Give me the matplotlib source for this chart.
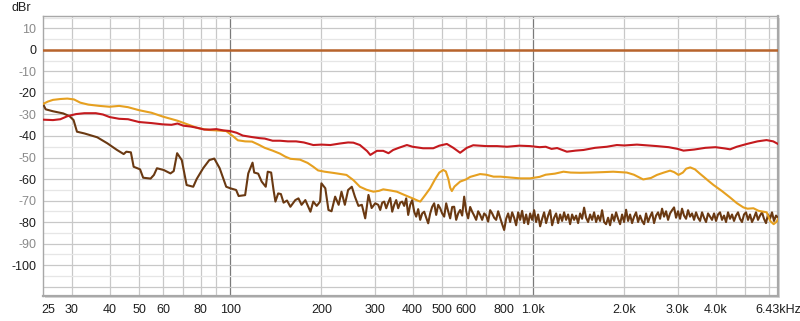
import numpy as np
import matplotlib
matplotlib.use('Agg')
import matplotlib.pyplot as plt
from matplotlib.patches import Rectangle
from matplotlib.ticker import FixedLocator, NullFormatter

plt.rcParams['font.family'] = ['Liberation Sans', 'DejaVu Sans']

# red trace
red_f = [24.1, 26, 27.5, 29, 31, 33, 36, 38, 40, 43, 46, 50, 55, 60, 64, 67, 70, 74, 78, 82,
         86, 90, 95, 100, 105, 110, 118, 125, 130, 138, 146, 155, 165, 175, 188, 200, 214, 230,
         245, 255, 268, 283, 290, 305, 320, 333, 345, 360, 383, 400, 433, 468, 490, 519, 545,
         574, 604, 634, 700, 760, 820, 900, 977, 1050, 1100, 1150, 1200, 1292, 1380, 1466,
         1600, 1750, 1889, 2000, 2200, 2400, 2562, 2800, 3000, 3135, 3400, 3700, 4000, 4300,
         4468, 4700, 5074, 5500, 5891, 6200, 6430]
red_db = [-32.4, -32.6, -32.2, -30.8, -29.8, -29.4, -29.4, -30.0, -31.2, -32.0, -32.2, -33.5,
          -34.0, -34.6, -34.8, -34.2, -35.2, -35.6, -36.2, -37.0, -37.0, -36.8, -37.4, -37.7,
          -38.5, -39.8, -40.5, -41.0, -41.2, -42.2, -42.2, -42.5, -42.5, -43.0, -44.2, -44.0,
          -44.2, -43.5, -43.0, -43.1, -44.2, -47.0, -48.8, -46.9, -46.9, -48.0, -46.5, -45.5,
          -44.2, -45.0, -45.7, -45.7, -44.5, -43.7, -45.5, -47.8, -45.5, -44.3, -44.7, -44.7,
          -45.0, -44.5, -44.7, -45.2, -45.0, -46.0, -45.6, -47.3, -46.8, -46.5, -45.5, -45.0,
          -44.2, -44.4, -44.0, -44.4, -44.7, -45.2, -46.0, -46.8, -46.3, -45.5, -45.2, -45.8,
          -46.2, -45.0, -43.7, -42.5, -41.9, -42.5, -43.7]

# yellow trace
yel_f = [24.1, 25, 26, 27.5, 29, 30.5, 32, 34, 37, 40, 43, 46, 50, 55, 60, 67, 72, 78, 85, 90,
         97, 102, 106, 112, 118, 124, 130, 138, 146, 152, 158, 170, 180, 188, 195, 205, 220,
         242, 255, 268, 282, 297, 310, 320, 340, 355, 370, 383, 400, 415, 424, 440, 457, 475,
         490, 505, 515, 525, 532, 539, 550, 574, 600, 620, 668, 700, 740, 780, 840, 906, 977,
         1050, 1100, 1180, 1259, 1330, 1430, 1550, 1700, 1838, 2038, 2150, 2308, 2450, 2562,
         2700, 2831, 2920, 3018, 3120, 3200, 3300, 3420, 3550, 3650, 3800, 3940, 4200, 4468,
         4700, 4942, 5100, 5335, 5550, 5755, 5900, 6060, 6220, 6370, 6430]
yel_db = [-25.1, -24.0, -23.2, -22.8, -22.6, -23.0, -24.5, -25.4, -26.0, -26.4, -26.0, -26.6,
          -28.0, -29.2, -31.0, -32.9, -34.5, -36.3, -37.2, -37.4, -37.7, -40.0, -42.0, -42.5,
          -42.6, -44.0, -45.5, -46.8, -48.2, -49.6, -50.6, -51.0, -52.5, -54.3, -56.0, -56.6,
          -57.2, -58.1, -60.5, -63.6, -65.0, -65.9, -65.5, -64.8, -65.4, -65.9, -67.0, -67.9,
          -69.0, -70.0, -70.5, -67.5, -64.3, -60.0, -57.0, -55.8, -56.5, -60.0, -64.0, -65.6,
          -63.5, -61.2, -60.2, -59.0, -57.7, -58.0, -58.9, -58.9, -59.3, -59.7, -59.7, -59.0,
          -58.0, -57.5, -56.6, -57.0, -57.1, -57.0, -56.8, -56.6, -57.0, -58.0, -60.2, -59.5,
          -58.1, -57.0, -56.1, -56.8, -58.1, -57.0, -55.2, -54.6, -55.5, -57.5, -58.9, -61.0,
          -62.8, -65.6, -68.6, -71.2, -73.2, -73.8, -73.6, -74.8, -75.2, -75.5, -79.5, -81.0,
          -79.8, -78.6]

# brown trace, low part
brn_f = [24.1, 24.6, 26, 28.1, 29.5, 30.4, 31.2, 33, 36.4, 39.3, 42.3, 44.5, 45.4, 47, 48,
         50.4, 51.6, 54.6, 56, 57.3, 60.3, 63.5, 65.1, 66.8, 69.2, 71.8, 75.5, 77.5, 81.4, 85.3,
         88.6, 92.3, 97, 100, 104.6, 106.6, 112, 114.7, 118.5, 120, 123.7, 127, 131, 133, 136.5,
         139, 141, 144, 147, 150, 154, 158, 164, 168, 172, 177, 184, 188, 193, 198, 200, 206,
         211, 216, 222, 228, 233, 239, 245, 252, 258, 265, 272, 279, 286, 293, 301]
brn_db = [-25.1, -27.6, -28.5, -29.5, -30.8, -32.6, -38.0, -38.8, -40.6, -43.4, -46.5, -48.4,
          -47.3, -47.6, -54.3, -55.5, -59.4, -59.8, -58.1, -55.0, -55.8, -57.4, -56.3, -48.0,
          -51.2, -62.8, -63.6, -60.0, -55.0, -51.2, -50.5, -55.0, -63.6, -64.3, -65.1, -67.9,
          -67.5, -57.4, -52.4, -57.0, -57.5, -61.2, -63.6, -56.6, -57.0, -65.1, -70.5, -66.7,
          -67.0, -71.0, -70.0, -72.9, -69.8, -69.0, -72.0, -69.8, -75.2, -70.5, -72.5, -70.5,
          -62.0, -64.3, -74.4, -75.0, -68.2, -72.0, -65.9, -72.0, -65.1, -63.6, -68.2, -72.5,
          -72.0, -78.3, -67.4, -73.5, -71.3]

# brown trace, noisy part (308 Hz .. 6.43 kHz)
brn_hi_db = [
    -72.0, -74.4, -71.0, -70.5, -73.6, -71.0, -68.8, -75.2, -72.0, -69.8,
    -73.6, -71.0, -70.5, -72.5, -69.0, -76.7, -72.0, -69.8, -75.2, -77.5,
    -74.0, -79.0, -76.0, -75.2, -78.0, -80.6, -76.0, -72.9, -71.3, -76.7,
    -72.0, -73.6, -76.0, -77.5, -71.3, -75.0, -78.3, -73.0, -72.9, -79.0,
    -76.0, -74.4, -77.0, -68.2, -75.0, -78.3, -73.0, -75.2, -77.0, -79.0,
    -75.0, -76.7, -79.0, -76.0, -77.0, -79.8, -74.5, -76.0, -78.0, -79.0,
    -75.0, -78.0, -81.0, -83.7, -78.5, -76.0, -80.0, -75.5, -78.0, -81.5,
    -75.5, -79.0, -74.8, -80.5, -76.5, -81.0, -76.0, -79.0, -74.5, -80.0,
    -76.5, -82.0, -78.5, -75.5, -80.5, -77.0, -74.5, -81.5, -78.0, -76.0,
    -80.5, -76.5, -79.5, -75.5, -79.0, -76.5, -81.0, -76.5, -79.0, -77.0,
    -80.5, -76.0, -78.5, -73.3, -78.0, -80.0, -76.5, -79.0, -75.5, -80.0,
    -77.0, -79.5, -74.5, -80.0, -81.0, -78.0, -81.5, -76.5, -79.5, -75.5,
    -78.5, -81.0, -76.5, -80.0, -74.3, -79.5, -76.5, -80.5, -77.5, -75.5,
    -80.0, -77.0, -79.5, -81.0, -76.0, -80.0, -77.5, -75.5, -80.5, -77.0,
    -75.5, -78.5, -73.8, -77.5, -75.0, -79.0, -76.0, -74.5, -73.2, -78.0,
    -75.0, -78.5, -73.8, -77.0, -78.5, -74.5, -77.5, -76.0, -79.0, -75.5,
    -78.0, -79.5, -75.5, -78.0, -80.0, -76.0, -77.5, -79.0, -76.0, -79.5,
    -76.5, -75.5, -79.0, -77.0, -80.0, -75.5, -78.5, -76.5, -79.5, -77.0,
    -75.5, -78.5, -80.0, -76.5, -75.5, -79.0, -76.5, -80.0, -78.0, -75.5,
    -79.0, -77.0, -75.5, -78.5, -80.5, -76.5, -78.5, -75.5, -79.5, -77.0,
    -78.0]
brn_hi_f = np.geomspace(308, 6430, len(brn_hi_db))

ref_db = [0, 0]
ref_f = [24.1, 6430]

xticks = [25, 30, 40, 50, 60, 80, 100, 200, 300, 400, 500, 600, 800, 1000, 2000, 3000, 4000, 6430]
xlabels = ['25', '30', '40', '50', '60', '80', '100', '200', '300', '400', '500', '600', '800',
           '1.0k', '2.0k', '3.0k', '4.0k', '6.43kHz']
xgrid = [30, 40, 50, 60, 70, 80, 90, 200, 300, 400, 500, 600, 700, 800, 900,
         2000, 3000, 4000, 5000, 6000]
yticks = [10, 0, -10, -20, -30, -40, -50, -60, -70, -80, -90, -100]

fig = plt.figure(figsize=(8, 3.21), dpi=100)
ax = fig.add_axes([43 / 800, 1 - 296 / 321, 735 / 800, 280 / 321])
ax.set_xscale('log')
ax.set_xlim(24.1, 6430)
ax.set_ylim(-114.4, 15.8)

for f in xgrid:
    ax.axvline(f, color='#c8c8c8', lw=0.9, zorder=1)
for f in [100, 1000]:
    ax.axvline(f, color='#7a7a7a', lw=0.9, zorder=1)
for y in range(-110, 16, 5):
    ax.axhline(y, color='#c8c8c8' if y % 10 == 0 else '#e6e6e6', lw=0.9, zorder=1)

ax.plot(ref_f, ref_db, color='#b8642c', lw=1.8, zorder=3)
ax.plot(brn_f + list(brn_hi_f), brn_db + brn_hi_db, color='#6a3912', lw=1.5, zorder=3)
ax.plot(yel_f, yel_db, color='#e6a020', lw=1.5, zorder=4)
ax.plot(red_f, red_db, color='#c41a1e', lw=1.5, zorder=5)

ax.xaxis.set_major_locator(FixedLocator(xticks))
ax.xaxis.set_minor_locator(FixedLocator([]))
ax.xaxis.set_minor_formatter(NullFormatter())
ax.set_xticklabels(xlabels)
ax.set_yticks(yticks)
ax.set_yticklabels([str(v) for v in yticks])
for lab, v in zip(ax.get_yticklabels(), yticks):
    lab.set_color('#1e1e1e' if v % 20 == 0 else '#8a8a8a')
ax.tick_params(axis='both', length=0, labelsize=9)
ax.tick_params(axis='x', pad=6, labelcolor='#1e1e1e')
ax.tick_params(axis='y', pad=5)

for s in ax.spines.values():
    s.set_color('#a8a8a8')
    s.set_linewidth(1.0)
ax.spines['right'].set_linewidth(1.6)
ax.spines['bottom'].set_linewidth(1.6)

# drop shadow behind the plot frame
fig.patches.append(Rectangle((45 / 800, 1 - 298 / 321), 735 / 800, 280 / 321,
                             transform=fig.transFigure, facecolor='#d8d8d8',
                             edgecolor='none', zorder=-1))

fig.text(21 / 800, 1 - 8 / 321, 'dBr', ha='center', va='center', fontsize=9, color='#1e1e1e')

fig.savefig('out.png', dpi=100)
